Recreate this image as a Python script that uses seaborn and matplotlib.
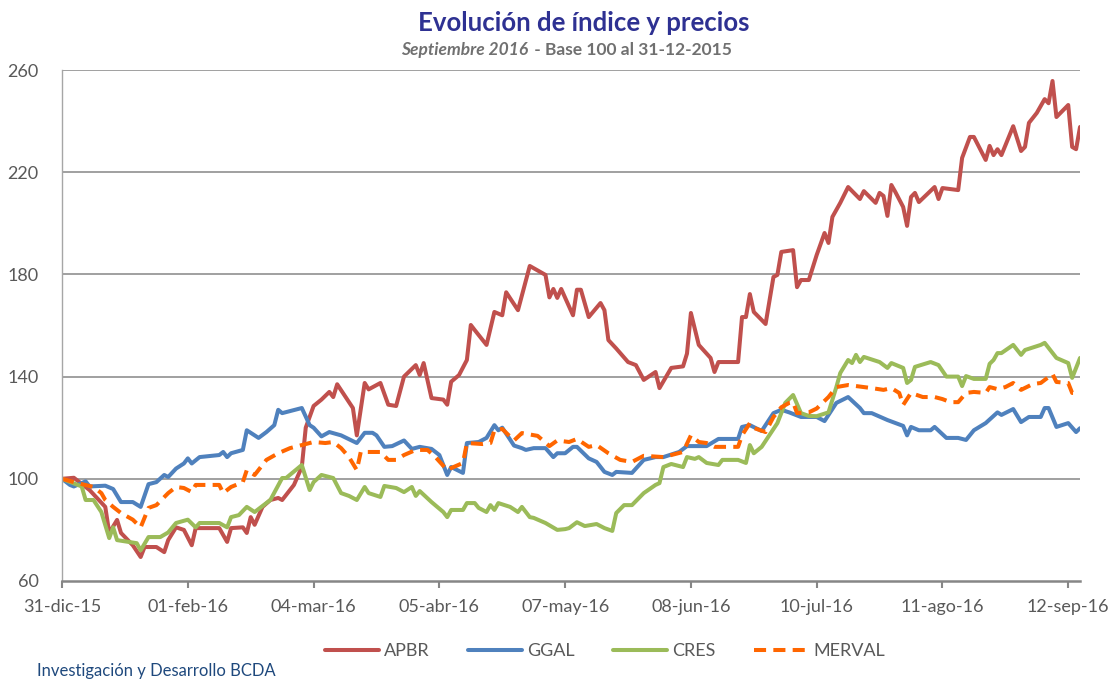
import numpy as np
import pandas as pd
import matplotlib
matplotlib.use('Agg')
import matplotlib.pyplot as plt
import seaborn as sns

# -----------------------------
# DATA (days since 31-12-2015, index base 100)
# -----------------------------
apbr_days = [0, 3, 7, 11, 12, 14, 15, 18, 20, 21, 24, 26, 27, 29, 31, 33, 34, 40, 42, 43,
             46, 47, 48, 49, 51, 53, 55, 56, 59, 61, 62, 64, 66, 68, 69, 70, 74, 75, 77, 78,
             81, 83, 85, 87, 90, 91, 92, 94, 97, 98, 99, 101, 103, 104, 105, 108, 110, 112, 113, 116,
             119, 123, 124, 125, 126, 127, 130, 131, 132, 134, 137, 138, 139, 141, 144, 146, 148, 151, 152, 155,
             158, 159, 160, 162, 165, 166, 167, 172, 173, 174, 175, 176, 179, 181, 182, 183, 186, 187, 188, 190,
             192, 194, 195, 196, 198, 200, 203, 204, 207, 208, 209, 210, 211, 212, 214, 215, 216, 217, 218, 222,
             223, 224, 228, 229, 231, 232, 235, 236, 237, 238, 239, 242, 244, 245, 246, 248, 250, 251, 252, 253,
             256, 257, 258, 259]
apbr_vals = [100, 100.4, 95.6, 89, 78.8, 83.9, 78.8, 74, 69.4, 73.3, 73.3, 71.3, 76, 81, 80, 74, 80.7, 80.7, 75.3, 80.7,
             81, 78.8, 85, 82, 89, 91.7, 92.5, 91.7, 97.6, 104.6, 120, 128.5, 131, 134, 132, 137, 127.7, 117, 137.5, 135,
             137.5, 129, 128.5, 140, 144.5, 140.6, 145.3, 131.6, 131, 129, 138, 140.6, 146.5, 160.2, 158.2, 152.4, 165.3, 164, 173, 166,
             183.3, 179.8, 171, 174.3, 170.8, 174.3, 164, 174, 174, 163.3, 168.8, 166, 154.3, 151, 145.7, 144.5, 138.7, 141.8, 135.5, 143.4,
             144, 149, 164.9, 152.4, 147.3, 141.8, 145.7, 145.7, 163.3, 163.3, 172.3, 165.3, 160.6, 179, 179.8, 188.8, 189.5, 175, 177.8, 177.8,
             187.6, 196.2, 192.3, 202.5, 208, 214.2, 209.5, 212.6, 208, 211.9, 210.7, 202.9, 215, 212.3, 206.4, 199, 210.3, 211.9, 208.3, 214.2,
             209.5, 213.8, 213, 225.6, 233.8, 233.8, 224.8, 230.3, 226.7, 229, 226.7, 238, 228.3, 229.9, 239.3, 243.2, 248.6, 247, 255.7, 241.6,
             246.3, 229.9, 229, 237.7]

ggal_days = [0, 2, 3, 6, 7, 11, 13, 15, 18, 20, 22, 24, 26, 27, 29, 31, 32, 33, 35, 40,
             41, 42, 43, 46, 47, 50, 52, 54, 55, 56, 61, 63, 64, 66, 68, 71, 75, 77, 79, 80,
             82, 84, 87, 89, 91, 94, 96, 98, 99, 102, 103, 106, 108, 110, 111, 112, 115, 117, 118, 120,
             123, 125, 126, 128, 130, 131, 134, 136, 138, 140, 141, 145, 148, 151, 153, 154, 157, 159, 164, 167,
             172, 173, 175, 178, 181, 183, 185, 188, 192, 194, 197, 200, 203, 204, 206, 210, 214, 215, 216, 218,
             221, 222, 225, 228, 230, 232, 235, 238, 239, 242, 244, 246, 249, 250, 251, 253, 256, 258, 259]
ggal_vals = [100, 97.6, 97, 99, 97, 97.3, 96, 90.9, 90.9, 89, 97.9, 98.7, 101.5, 100.7, 104, 106, 108, 106, 108.5, 109.3,
             110.5, 108.5, 110, 111.3, 119, 116, 118.3, 121, 127, 125.7, 127.7, 121, 120, 116.6, 118.3, 117, 114, 118, 118, 117,
             112.5, 112.8, 115, 111.7, 112.5, 111.7, 109.3, 101.5, 104.6, 102.3, 114, 114.4, 116, 121, 119, 120, 113, 112, 111.3, 112,
             112, 108.5, 110, 110, 112.5, 112.5, 108, 106.6, 102.7, 101.5, 102.7, 102.3, 107.4, 108.5, 108.5, 109, 110.5, 112.8, 112.8, 115.6,
             115.6, 120.3, 121, 118.7, 125.7, 127, 126, 124.2, 124.2, 122.6, 129.7, 132, 127.7, 125.7, 125.7, 123, 120.7, 117, 120.3, 119,
             119, 120.3, 116, 116, 115.2, 119, 121.8, 126, 125, 127.3, 122.2, 124.2, 124.2, 127.7, 127.7, 120.3, 121.8, 118.3, 119.8]

cres_days = [0, 5, 6, 8, 10, 12, 13, 14, 19, 20, 22, 25, 27, 29, 32, 34, 35, 40, 42, 43,
             45, 47, 49, 52, 53, 56, 57, 61, 63, 64, 66, 69, 71, 73, 75, 77, 78, 81, 82, 85,
             87, 89, 90, 91, 94, 97, 98, 99, 102, 103, 105, 106, 108, 109, 110, 111, 114, 116, 117, 119,
             120, 123, 126, 128, 129, 131, 133, 136, 138, 140, 141, 143, 145, 148, 151, 152, 153, 155, 158, 159,
             161, 162, 164, 167, 168, 172, 174, 175, 176, 178, 182, 184, 186, 188, 190, 192, 195, 197, 198, 200,
             201, 202, 203, 204, 208, 210, 211, 214, 215, 216, 217, 221, 223, 225, 228, 229, 230, 232, 235, 236,
             237, 238, 239, 242, 244, 245, 249, 250, 253, 256, 257, 259]
cres_vals = [100, 97, 91.7, 91.7, 87, 76.8, 81, 76, 74.8, 72, 77.2, 77.2, 79, 82.7, 84, 81, 82.7, 82.7, 81, 85,
             85.8, 89, 87, 90.5, 91.7, 100.3, 100.3, 105.4, 95.6, 98.7, 101.5, 100.3, 94.4, 93.3, 91.7, 96.8, 94.4, 92.9, 97.2, 96.4,
             94.8, 96.8, 93.3, 95.2, 90.9, 87, 85, 87.8, 87.8, 90.5, 90.5, 88.6, 87, 89.7, 87.8, 90.5, 89, 87, 89, 85,
             84.7, 82.7, 80, 80.3, 80.7, 83, 81.5, 82.3, 80.7, 79.6, 86.6, 89.7, 89.7, 94.4, 97.6, 98.3, 104.6, 105.8, 104.6, 108.5,
             107.8, 108.5, 106.2, 105.4, 107.4, 107.4, 106.2, 113.2, 110, 112.5, 121.8, 129.7, 132.8, 125.7, 124.6, 124.5, 126, 135.9, 141.4, 146.5,
             145.3, 148.5, 145.7, 147.7, 145.7, 143.4, 145.3, 143.4, 137.5, 138.7, 143.8, 145.7, 144.5, 140, 140, 136.3, 140.2, 139.1, 139.1, 145,
             146.5, 149.2, 149.2, 152.4, 148.5, 150.4, 152.4, 153.2, 147.3, 145.3, 139.5, 147.3]

merval_days = [0, 3, 8, 10, 11, 13, 15, 18, 20, 22, 24, 27, 29, 31, 33, 34, 40, 41, 43, 46,
               47, 49, 52, 55, 58, 61, 64, 67, 69, 71, 73, 75, 76, 81, 83, 85, 87, 90, 93, 95,
               98, 99, 102, 103, 107, 109, 110, 112, 115, 117, 121, 124, 126, 129, 131, 134, 136, 139, 142, 145,
               148, 153, 155, 158, 160, 162, 164, 166, 172, 173, 175, 176, 179, 181, 183, 185, 186, 187, 190, 192,
               195, 197, 200, 204, 206, 209, 211, 213, 214, 216, 219, 222, 224, 226, 228, 230, 232, 235, 236, 238,
               240, 242, 244, 247, 249, 252, 253, 256, 257, 259]
merval_vals = [100, 98.7, 96.8, 94.4, 91.7, 89, 86.6, 84, 81, 88.6, 89.7, 94.4, 96.8, 96.4, 94.8, 97.6, 97.6, 94.4, 96.8, 98.7,
               103.4, 101.5, 107.4, 110, 112, 113.2, 114.4, 114, 114.4, 112, 108.5, 103.4, 110.5, 110.5, 107.4, 107.4, 109.3, 111.3, 111.3, 108.5,
               103.4, 104.2, 106.2, 114, 113.6, 114, 119, 119.5, 115, 117.9, 116.8, 112.8, 115, 114.4, 115.6, 112.5, 113.2, 110, 107.4, 106.6,
               109, 108.5, 109.3, 110.5, 117, 114.4, 114, 112.5, 112.5, 117, 121.8, 119.9, 118.3, 124.2, 128, 129.7, 130, 125.7, 126, 127.5,
               132, 135.9, 136.7, 135.9, 135.5, 134.8, 135.5, 133.6, 128.9, 133.6, 132, 132, 131.2, 130, 130, 133.6, 134, 133.6, 135.9, 135.1,
               135.9, 137.5, 134.8, 137.1, 137.5, 141, 137.9, 137.5, 133.6, 133.6]

series_names = ['APBR', 'GGAL', 'CRES', 'MERVAL']
series_colors = ['#C0504D', '#4F81BD', '#9BBB59', '#FF6600']

tick_labels = ['31-dic-15', '01-feb-16', '04-mar-16', '05-abr-16', '07-may-16',
               '08-jun-16', '10-jul-16', '11-ago-16', '12-sep-16']

# -----------------------------
# LONG DATAFRAME
# -----------------------------
base = pd.Timestamp('2015-12-31')
frames = []
for name, d, v in zip(series_names,
                      [apbr_days, ggal_days, cres_days, merval_days],
                      [apbr_vals, ggal_vals, cres_vals, merval_vals]):
    frames.append(pd.DataFrame({'fecha': base + pd.to_timedelta(d, unit='D'),
                                'valor': v, 'serie': name}))
df = pd.concat(frames, ignore_index=True)

# -----------------------------
# PLOT
# -----------------------------
sns.set_style('white')
plt.rcParams['font.family'] = ['Lato', 'DejaVu Sans']

fig = plt.figure(figsize=(11.14, 6.87), dpi=100)
ax = fig.add_axes([0.0557, 0.1543, 0.9138, 0.7438])

# gridlines first
for yv in [100, 140, 180, 220, 260]:
    ax.axhline(yv, color='#868686', lw=1.1, zorder=0)

sns.lineplot(data=df, x='fecha', y='valor', hue='serie', style='serie',
             hue_order=series_names, style_order=series_names,
             palette=dict(zip(series_names, series_colors)),
             dashes={'APBR': '', 'GGAL': '', 'CRES': '', 'MERVAL': (3, 1.8)},
             linewidth=2.9, estimator=None, sort=False, ax=ax, legend=False)

ax.set_ylim(60, 260)
ax.set_yticks(np.arange(60, 261, 40))
ax.set_xlim(base, base + pd.Timedelta(days=259))
tick_dates = pd.date_range(base, periods=len(tick_labels), freq='32D')
ax.set_xticks(tick_dates)
ax.set_xticklabels(tick_labels)
ax.set_xlabel('')
ax.set_ylabel('')

ax.tick_params(axis='y', length=0, pad=17, labelsize=13, labelcolor='#595959')
ax.tick_params(axis='x', length=5, width=1.5, color='#868686', pad=8,
               labelsize=13, labelcolor='#595959', direction='out', bottom=True)

for s in ['top', 'right']:
    ax.spines[s].set_visible(False)
ax.spines['left'].set_color('#A6A6A6')
ax.spines['left'].set_linewidth(1.0)
ax.spines['bottom'].set_color('#868686')
ax.spines['bottom'].set_linewidth(1.8)

# legend
handles = []
for name, col in zip(series_names, series_colors):
    h, = ax.plot([], [], color=col, lw=2.9, label=name)
    if name == 'MERVAL':
        h.set_dashes((3, 1.8))
    handles.append(h)
fig.legend(handles=handles, loc='center', bbox_to_anchor=(0.543, 0.052), ncol=4,
           frameon=False, handlelength=3.0, columnspacing=2.1, handletextpad=0.3,
           prop={'size': 13}, labelcolor='#595959')

# titles
fig.text(0.524, 0.967, 'Evolución de índice y precios', ha='center', va='center',
         fontsize=18.5, fontweight='bold', color='#2E3192')
fig.text(0.4745, 0.927, 'Septiembre 2016', ha='right', va='center', fontsize=12.5,
         fontweight='bold', fontstyle='italic', color='#707070')
fig.text(0.476, 0.927, ' - Base 100 al 31-12-2015', ha='left', va='center', fontsize=12.5,
         fontweight='bold', color='#707070')

fig.text(0.033, 0.012, 'Investigación y Desarrollo BCDA', ha='left', va='bottom',
         fontsize=12, color='#1F497D')

fig.savefig('out.png', dpi=100)
plt.close()
